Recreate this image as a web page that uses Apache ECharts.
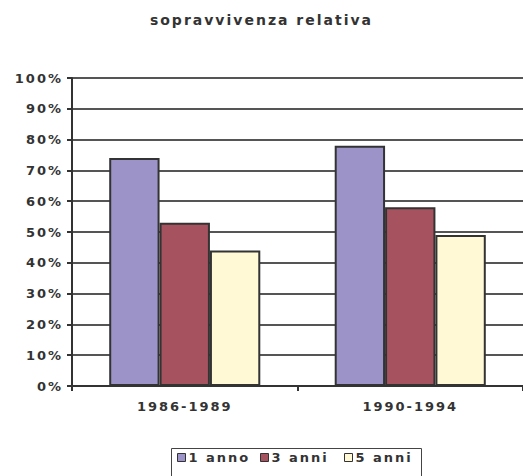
<!DOCTYPE html>
<html>
<head>
<meta charset="utf-8">
<script src="https://cdn.jsdelivr.net/npm/echarts@6/dist/echarts.min.js"></script>
<style>
  html, body { margin: 0; padding: 0; background: #fff; }
  #chart { width: 523px; height: 476px; }
  /* wide tracking for all chart text (SVG renderer) */
  #chart text { letter-spacing: 2px; }
</style>
</head>
<body>
<div id="chart"></div>
<script>
// Periods of diagnosis
const periods = ['1986-1989', '1990-1994'];
// Relative survival (fraction) by years after diagnosis
const oneYear = [0.74, 0.78];
const threeYears = [0.53, 0.58];
const fiveYears = [0.44, 0.49];
const seriesNames = ['1 anno', '3 anni', '5 anni'];
const colors = ['#9c94c8', '#a6525f', '#fff9d6'];

const chart = echarts.init(document.getElementById('chart'), null, { renderer: 'svg' });
const font = 'DejaVu Sans, Verdana, sans-serif';
const textBase = { fontFamily: font, fontSize: 13, fontWeight: 'bold', color: '#333' };
const barStyle = (c) => ({ color: c, borderColor: '#333', borderWidth: 2 });

// one legend entry per series, laid out side by side inside a framed box
const legendLefts = [177, 260, 344];
const legends = seriesNames.map((name, i) => ({
  data: [name],
  left: legendLefts[i],
  top: 451,
  padding: 0,
  itemWidth: 8,
  itemHeight: 8,
  icon: 'rect',
  itemStyle: { borderColor: '#333', borderWidth: 1 },
  textStyle: Object.assign({ padding: [0, 0, 0, -2] }, textBase)
}));

chart.setOption({
  animation: false,
  backgroundColor: '#fff',
  title: {
    text: 'sopravvivenza relativa',
    left: 'center',
    top: 8,
    textStyle: Object.assign({}, textBase, { fontSize: 14 })
  },
  legend: legends,
  graphic: [{
    type: 'rect',
    left: 169,
    top: 446,
    shape: { width: 250, height: 40 },
    style: { fill: 'none', stroke: '#444', lineWidth: 1 },
    silent: true,
    z: -1
  }],
  grid: { left: 72, right: -1, top: 78, bottom: 90 },
  xAxis: {
    type: 'category',
    data: periods,
    axisLine: { lineStyle: { color: '#333', width: 2 } },
    axisTick: { show: true, length: 5, lineStyle: { color: '#333', width: 2 } },
    axisLabel: Object.assign({ margin: 14 }, textBase)
  },
  yAxis: {
    type: 'value',
    min: 0,
    max: 1,
    interval: 0.1,
    axisLine: { show: true, lineStyle: { color: '#333', width: 2 } },
    axisTick: { show: true, inside: false, length: 5, lineStyle: { color: '#333', width: 2 } },
    splitLine: { lineStyle: { color: '#555', width: 2 } },
    axisLabel: Object.assign({
      margin: 9,
      formatter: (v) => Math.round(v * 100) + '%'
    }, textBase)
  },
  series: [
    { name: seriesNames[0], type: 'bar', data: oneYear, itemStyle: barStyle(colors[0]), barGap: '0%', barCategoryGap: '33%' },
    { name: seriesNames[1], type: 'bar', data: threeYears, itemStyle: barStyle(colors[1]) },
    { name: seriesNames[2], type: 'bar', data: fiveYears, itemStyle: barStyle(colors[2]) }
  ]
});
</script>
</body>
</html>
